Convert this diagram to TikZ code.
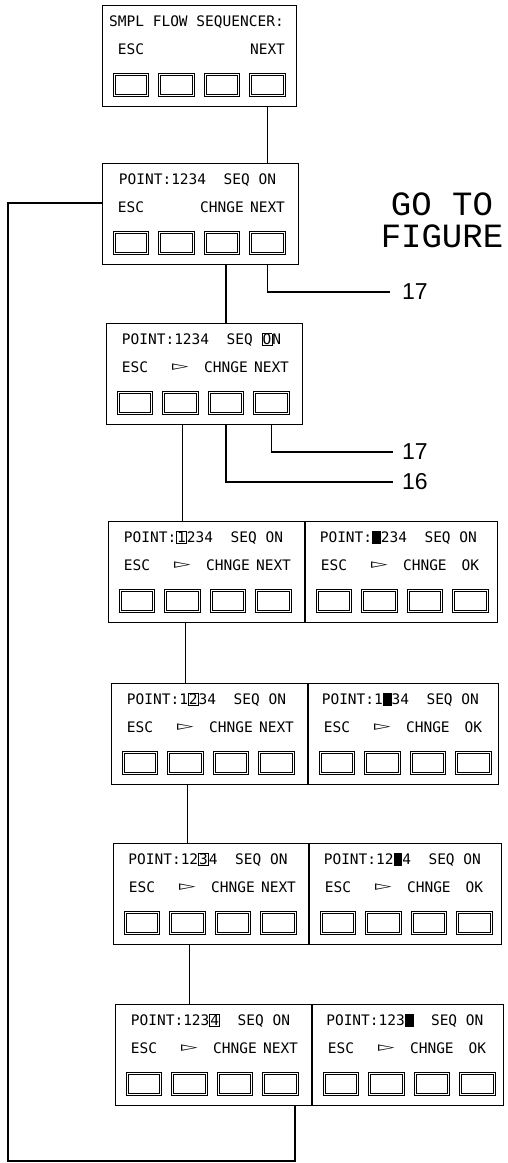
\documentclass[tikz,border=0pt]{standalone}
\usepackage{fontspec}
\setmainfont{DejaVu Sans Mono}
\newfontfamily\plotfont{Liberation Mono}
\newfontfamily\numfont{Liberation Sans}
\newfontfamily\symfont{DejaVu Sans}
\usepackage{tikz}
\usetikzlibrary{positioning,calc}
\newcommand{\curbox}[1]{{\setlength{\fboxsep}{0.3pt}\setlength{\fboxrule}{0.7pt}\fbox{#1}}}
\newcommand{\curblk}{\rule[-1pt]{8.7pt}{12.5pt}}
\newcommand{\ptr}{{\symfont\scalebox{1.5}[0.9]{▻}}}
% one display panel: name, position, width, top line, four soft key labels
\newcommand{\lcdpanel}[8]{%
  \node[panel, minimum width=#3pt] (#1) at #2 {};
  \node[toprow] (#1txt) at ([xshift=-3pt,yshift=-17pt]#1.north) {#4};
  \foreach \k/\lab in {1/{#5},2/{#6},3/{#7},4/{#8}} {
    \node[softkey] (#1k\k) at ([xshift={29pt+(\k-1)*45.5pt},yshift=-80pt]#1.north west) {};
    \node[keylab] (#1lab\k) at ([yshift=36pt]#1k\k.center) {\lab};
  }%
}

\begin{document}
\begin{tikzpicture}[x=1pt, y=-1pt,
  panel/.style={draw, line width=0.9pt, rectangle, anchor=north west, minimum height=101pt, inner sep=0pt},
  softkey/.style={draw, double, double distance=1.3pt, line width=0.7pt, minimum width=33.5pt, minimum height=21.5pt, inner sep=0pt},
  keylab/.style={font=\fontsize{14.5}{16}\selectfont, inner sep=0pt},
  toprow/.style={font=\fontsize{14.5}{16}\selectfont, inner sep=0pt},
  link/.style={line width=1.6pt},
  fignum/.style={font=\numfont\fontsize{23}{26}\selectfont, anchor=west, inner sep=0pt},
  gofig/.style={font=\plotfont\fontsize{34}{36}\selectfont, inner sep=0pt, text height=19pt, text depth=0pt}]
\useasboundingbox (0,0) rectangle (508,1163);

\lcdpanel{p1}{(102,5)}{194}{SMPL FLOW SEQUENCER:}{ESC}{}{}{NEXT}
\lcdpanel{p2}{(102,163)}{196}{POINT:1234~~SEQ~ON}{ESC}{}{CHNGE}{NEXT}
\lcdpanel{p3}{(106,323)}{196}{POINT:1234~~SEQ~\curbox{O}N}{ESC}{\ptr}{CHNGE}{NEXT}

\lcdpanel{p4l}{(108,521)}{196}{POINT:\curbox{1}234~~SEQ~ON}{ESC}{\ptr}{CHNGE}{NEXT}
\lcdpanel{p4r}{(p4l.north east)}{192}{POINT:\curblk234~~SEQ~ON}{ESC}{\ptr}{CHNGE}{OK}
\lcdpanel{p5l}{(111,683)}{196}{POINT:1\curbox{2}34~~SEQ~ON}{ESC}{\ptr}{CHNGE}{NEXT}
\lcdpanel{p5r}{(p5l.north east)}{190}{POINT:1\curblk34~~SEQ~ON}{ESC}{\ptr}{CHNGE}{OK}
\lcdpanel{p6l}{(113,843)}{195}{POINT:12\curbox{3}4~~SEQ~ON}{ESC}{\ptr}{CHNGE}{NEXT}
\lcdpanel{p6r}{(p6l.north east)}{192}{POINT:12\curblk4~~SEQ~ON}{ESC}{\ptr}{CHNGE}{OK}
\lcdpanel{p7l}{(115,1004)}{196}{POINT:123\curbox{4}~~SEQ~ON}{ESC}{\ptr}{CHNGE}{NEXT}
\lcdpanel{p7r}{(p7l.north east)}{191}{POINT:123\curblk~~SEQ~ON}{ESC}{\ptr}{CHNGE}{OK}

\node[gofig] (goto) at (442,206) {GO TO};
\node[gofig] (gofigure) at (442,238) {FIGURE};
\node[fignum] (go17) at (402,292) {17};
\node[fignum] (to17) at (402,452) {17};
\node[fignum] (to16) at (402,482) {16};
\coordinate (ret) at (8,1161);

\draw[link] (p1k4 |- p1.south) -- (p1k4 |- p2.north);
\draw[link] (p2k4 |- p2.south) |- ([xshift=-12pt]go17.west);
\draw[link] (p3k3 |- p2.south) -- (p3k3 |- p3.north);
\draw[link] (p3k4 |- p3.south) |- ([xshift=-9pt]to17.west);
\draw[link] (p3k3 |- p3.south) |- ([xshift=-9pt]to16.west);
\draw[link] (p4lk2 |- p3.south) -- (p4lk2 |- p4l.north);
\draw[link] (p5lk2 |- p4l.south) -- (p5lk2 |- p5l.north);
\draw[link] (p6lk2 |- p5l.south) -- (p6lk2 |- p6l.north);
\draw[link] (p7lk2 |- p6l.south) -- (p7lk2 |- p7l.north);
\draw[link] ([yshift=11pt]p2.west) -| (ret) -| ([xshift=-17pt]p7l.south east);
\end{tikzpicture}
\end{document}
